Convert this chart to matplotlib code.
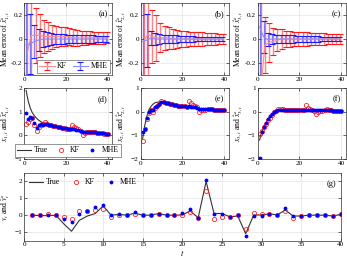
import numpy as np
import matplotlib.pyplot as plt

plt.rcParams['font.family'] = ['Liberation Serif', 'DejaVu Serif']
plt.rcParams['mathtext.fontset'] = 'stix'
plt.rcParams['font.size'] = 6

t = np.arange(1, 41)
tb = np.arange(1, 40, 2)   # error bars every 2 steps

# (a)-(c): mean error and half spread of the estimates
kf_m1 = [-0.12, 0.03, 0.03, 0.03, 0.02, 0.02, 0.02, 0.02, 0.02, 0.02,
         0.02, 0.01, 0.01, 0.01, 0.01, 0.01, 0.01, 0.01, 0.01, 0.01]
kf_e1 = [1.0, 0.6, 0.23, 0.18, 0.14, 0.12, 0.10, 0.09, 0.08, 0.08,
         0.07, 0.07, 0.065, 0.06, 0.06, 0.055, 0.05, 0.05, 0.05, 0.045]
mhe_m1 = [-0.05, -0.04, -0.02, -0.01, 0.0, 0.0, 0.0, 0.0, 0.0, 0.0,
          0.0, 0.0, 0.0, 0.0, 0.0, 0.0, 0.0, 0.0, 0.0, 0.0]
mhe_e1 = [1.0, 0.25, 0.14, 0.09, 0.07, 0.06, 0.05, 0.045, 0.04, 0.04,
          0.035, 0.035, 0.03, 0.03, 0.03, 0.03, 0.03, 0.025, 0.025, 0.025]

kf_m2 = [-0.02, 0.04, 0.02, 0.01, 0.01, 0.01, 0.01, 0.0, 0.0, 0.0,
         0.0, 0.0, 0.0, 0.0, 0.0, 0.0, 0.0, 0.0, 0.0, 0.0]
kf_e2 = [1.0, 0.6, 0.22, 0.19, 0.12, 0.10, 0.09, 0.08, 0.075, 0.07,
         0.065, 0.06, 0.06, 0.055, 0.055, 0.05, 0.05, 0.05, 0.045, 0.045]
mhe_m2 = [-0.02, -0.01, 0.01, 0.0, 0.0, 0.0, 0.0, 0.0, 0.0, 0.0,
          0.0, 0.0, 0.0, 0.0, 0.0, 0.0, 0.0, 0.0, 0.0, 0.0]
mhe_e2 = [1.0, 0.22, 0.06, 0.05, 0.04, 0.035, 0.03, 0.03, 0.03, 0.025,
          0.025, 0.025, 0.025, 0.02, 0.02, 0.02, 0.02, 0.02, 0.02, 0.02]

kf_m3 = [-0.45, -0.05, -0.03, -0.02, -0.01, 0.0, 0.0, 0.0, 0.0, 0.0,
         0.0, 0.0, 0.0, 0.0, 0.0, 0.0, 0.0, 0.0, 0.0, 0.0]
kf_e3 = [1.0, 0.23, 0.16, 0.11, 0.09, 0.08, 0.07, 0.065, 0.06, 0.06,
         0.055, 0.055, 0.05, 0.05, 0.05, 0.05, 0.045, 0.045, 0.045, 0.045]
mhe_m3 = [0.1, 0.015, -0.005, 0.0, 0.0, 0.0, 0.0, 0.0, 0.0, 0.0,
          0.0, 0.0, 0.0, 0.0, 0.0, 0.0, 0.0, 0.0, 0.0, 0.0]
mhe_e3 = [1.0, 0.135, 0.055, 0.04, 0.035, 0.03, 0.03, 0.03, 0.03, 0.025,
          0.025, 0.025, 0.025, 0.025, 0.025, 0.02, 0.02, 0.02, 0.02, 0.02]

# (d)-(f): true states and estimates
x1_true = [1.90, 1.45, 1.15, 0.95, 0.82, 0.72, 0.64, 0.58, 0.54, 0.51,
           0.48, 0.46, 0.44, 0.42, 0.40, 0.38, 0.36, 0.34, 0.32, 0.30,
           0.29, 0.28, 0.27, 0.26, 0.24, 0.22, 0.20, 0.18, 0.17, 0.16,
           0.15, 0.14, 0.13, 0.12, 0.11, 0.10, 0.09, 0.08, 0.07, 0.06]
x1_kf = [0.50, 0.55, 0.68, 0.72, 0.45, 0.20, 0.35, 0.45, 0.50, 0.55,
         0.48, 0.45, 0.43, 0.41, 0.38, 0.36, 0.34, 0.32, 0.30, 0.28,
         0.27, 0.26, 0.42, 0.35, 0.30, 0.25, 0.20, 0.03, 0.10, 0.12,
         0.13, 0.12, 0.15, 0.12, 0.10, 0.09, 0.08, 0.07, 0.06, 0.05]
x1_mhe = [0.95, 0.70, 0.78, 0.75, 0.52, 0.30, 0.45, 0.46, 0.45, 0.50,
          0.48, 0.45, 0.43, 0.41, 0.39, 0.37, 0.35, 0.33, 0.31, 0.29,
          0.28, 0.27, 0.28, 0.26, 0.24, 0.22, 0.20, 0.15, 0.16, 0.15,
          0.14, 0.13, 0.13, 0.12, 0.11, 0.10, 0.09, 0.08, 0.07, 0.06]

x2_true = [-1.15, -0.60, -0.20, 0.08, 0.22, 0.32, 0.38, 0.40, 0.41, 0.40,
           0.38, 0.36, 0.34, 0.32, 0.30, 0.28, 0.26, 0.25, 0.23, 0.22,
           0.21, 0.20, 0.19, 0.18, 0.17, 0.16, 0.15, 0.14, 0.13, 0.12,
           0.11, 0.10, 0.09, 0.08, 0.08, 0.07, 0.06, 0.06, 0.05, 0.05]
x2_kf = [-1.25, -0.75, -0.30, -0.05, 0.05, 0.00, 0.15, 0.25, 0.32, 0.45,
         0.40, 0.37, 0.35, 0.33, 0.31, 0.29, 0.27, 0.25, 0.24, 0.23,
         0.22, 0.20, 0.45, 0.35, 0.28, 0.22, 0.18, 0.00, 0.05, 0.07,
         0.09, 0.10, 0.12, 0.10, 0.09, 0.08, 0.07, 0.06, 0.05, 0.05]
x2_mhe = [-0.85, -0.75, -0.28, 0.00, 0.08, 0.05, 0.18, 0.25, 0.32, 0.40,
          0.39, 0.37, 0.35, 0.33, 0.31, 0.29, 0.27, 0.25, 0.24, 0.23,
          0.22, 0.21, 0.22, 0.20, 0.19, 0.18, 0.17, 0.12, 0.12, 0.12,
          0.11, 0.10, 0.11, 0.10, 0.09, 0.08, 0.07, 0.06, 0.05, 0.05]

x3_true = [-1.20, -0.85, -0.65, -0.48, -0.33, -0.21, -0.11, -0.03, 0.03, 0.07,
           0.08, 0.09, 0.09, 0.09, 0.09, 0.08, 0.08, 0.08, 0.08, 0.08,
           0.07, 0.07, 0.07, 0.07, 0.07, 0.06, 0.06, 0.06, 0.05, 0.05,
           0.05, 0.05, 0.05, 0.04, 0.04, 0.04, 0.04, 0.03, 0.03, 0.03]
x3_kf = [-0.95, -0.80, -0.65, -0.50, -0.35, -0.25, -0.12, -0.03, 0.04, 0.10,
         0.10, 0.10, 0.09, 0.09, 0.09, 0.08, 0.08, 0.08, 0.08, 0.08,
         0.08, 0.07, 0.28, 0.15, 0.10, 0.06, 0.03, -0.08, 0.00, 0.03,
         0.04, 0.05, 0.10, 0.06, 0.05, 0.04, 0.04, 0.03, 0.03, 0.03]
x3_mhe = [-1.95, -0.85, -0.65, -0.48, -0.33, -0.20, -0.10, -0.02, 0.04, 0.08,
          0.08, 0.09, 0.09, 0.09, 0.09, 0.08, 0.08, 0.08, 0.08, 0.08,
          0.08, 0.08, 0.08, 0.08, 0.07, 0.07, 0.07, 0.06, 0.06, 0.05,
          0.05, 0.05, 0.06, 0.05, 0.05, 0.04, 0.04, 0.04, 0.03, 0.03]

# (g): disturbance and its estimates
v_true = [0.0, -0.02, -0.03, 0.0, -0.5, -0.95, -0.3, -0.05, 0.1, 0.55,
          0.0, 0.05, 0.0, 0.12, 0.0, 0.0, 0.1, 0.0, 0.0, 0.02,
          0.25, -0.15, 2.0, 0.1, 0.1, -0.1, -0.05, -1.1, 0.0, 0.02,
          0.08, 0.02, 0.3, -0.05, -0.05, 0.0, 0.0, 0.0, -0.05, 0.05]
v_kf = [0.0, 0.04, 0.1, 0.04, -0.1, -0.2, 0.24, 0.26, 0.3, 0.36,
        -0.1, 0.04, 0.0, 0.1, 0.0, 0.0, 0.1, 0.0, 0.0, 0.0,
        0.2, -0.17, 1.44, -0.25, -0.1, -0.1, 0.0, -0.8, 0.15, 0.1,
        0.1, 0.0, 0.27, -0.15, -0.05, 0.0, 0.0, 0.0, -0.02, 0.05]
v_mhe = [0.0, 0.04, 0.04, 0.04, -0.25, -0.4, 0.05, 0.25, 0.46, 0.6,
         0.04, 0.08, 0.0, 0.16, 0.0, 0.0, 0.1, 0.0, 0.0, 0.15,
         0.35, -0.17, 2.1, 0.1, 0.1, -0.1, 0.0, -1.25, -0.05, -0.05,
         0.1, 0.0, 0.4, -0.05, -0.05, 0.0, 0.0, 0.0, -0.02, 0.1]

W, H = 347.0, 264.0


def box(l, top, w, bot):
    return [l / W, 1 - bot / H, w / W, (bot - top) / H]


fig = plt.figure(figsize=(3.47, 2.64), dpi=100)
lefts = [24.0, 140.5, 257.5]
row1 = [fig.add_axes(box(l, 3, 88, 75)) for l in lefts]
row2 = [fig.add_axes(box(l, 88, 88, 159)) for l in lefts]
axg = fig.add_axes(box(24.0, 173, 316.7, 240.5))

# x position (pixels) of the y label anchor for each column
label_x = [11.5, 127.9, 244.9]


def style(ax):
    ax.grid(True, color='#e3e3e3', lw=0.5)
    ax.set_axisbelow(True)
    ax.tick_params(direction='in', top=True, right=True, length=2,
                   width=0.4, labelsize=5.2, pad=1.2)
    for s in ax.spines.values():
        s.set_linewidth(0.5)
        s.set_color('#333333')


def place_ylabel(ax, px, left, width):
    ax.yaxis.set_label_coords((px - left) / width, 0.5)


def errbars(ax, x, m, e, c_line, c_bar, label):
    eb = ax.errorbar(x, m, yerr=e, color=c_line, lw=0.8, ecolor=c_bar,
                     elinewidth=1.0, capsize=2, capthick=0.8, label=label)
    for cl in eb[1]:
        cl.set_markeredgecolor(c_bar)
    eb[2][0].set_alpha(0.55)
    return eb


err_sets = [(kf_m1, kf_e1, mhe_m1, mhe_e1),
            (kf_m2, kf_e2, mhe_m2, mhe_e2),
            (kf_m3, kf_e3, mhe_m3, mhe_e3)]
names = ['a', 'b', 'c']
for i, ax in enumerate(row1):
    km, ke, mm, me = err_sets[i]
    errbars(ax, tb + 0.5, km, ke, '#ff8a8a', '#ff1a1a', 'KF')
    errbars(ax, tb, mm, me, '#8a8aff', '#1a1aff', 'MHE')
    ax.set_xlim(0, 42)
    ax.set_ylim(-0.3, 0.3)
    ax.set_xticks([0, 20, 40])
    ax.set_yticks([-0.2, 0, 0.2])
    ax.set_yticklabels(['-0.2', '0', '0.2'])
    ax.set_ylabel('Mean error of $\\hat{x}^s_{%d,t}$' % (i + 1), fontsize=5.5)
    place_ylabel(ax, label_x[i], lefts[i], 88)
    ax.text(0.95, 0.9, '(%s)' % names[i], transform=ax.transAxes,
            ha='right', va='top', fontsize=6)
    style(ax)
row1[0].legend(loc='lower right', ncol=2, fontsize=5.5, handlelength=2,
               columnspacing=0.8, handletextpad=0.3, borderpad=0.3,
               fancybox=False, edgecolor='#444444', framealpha=1,
               borderaxespad=0.3).get_frame().set_linewidth(0.4)

states = [(x1_true, x1_kf, x1_mhe), (x2_true, x2_kf, x2_mhe),
          (x3_true, x3_kf, x3_mhe)]
names = ['d', 'e', 'f']
for i, ax in enumerate(row2):
    xt, xk, xm = states[i]
    ax.plot(t, xt, color='#333333', lw=0.8, label='True')
    ax.plot(t, xk, 'o', mfc='none', mec='#ff2020', ms=3, mew=0.6, label='KF')
    ax.plot(t, xm, '.', color='#0000ff', ms=3.5, label='MHE')
    ax.set_xlim(0, 42)
    if i == 0:
        ax.set_ylim(-1, 2)
        ax.set_yticks([-1, 0, 1, 2])
    else:
        ax.set_ylim(-2, 1)
        ax.set_yticks([-2, -1, 0, 1])
    ax.set_xticks([0, 20, 40])
    ax.set_ylabel('$x_{%d,t}$ and $\\hat{x}^s_{%d,t}$' % (i + 1, i + 1),
                  fontsize=5.5)
    place_ylabel(ax, label_x[i] + 0.5, lefts[i], 88)
    ax.text(0.95, 0.9, '(%s)' % names[i], transform=ax.transAxes,
            ha='right', va='top', fontsize=6)
    style(ax)
row2[0].legend(loc='lower center', ncol=3, fontsize=5.5, handlelength=1.8,
               columnspacing=0.8, handletextpad=0.3, borderpad=0.3,
               fancybox=False, edgecolor='#444444', framealpha=1,
               borderaxespad=0.3).get_frame().set_linewidth(0.4)

axg.plot(t, v_true, color='#333333', lw=0.8, label='True')
axg.plot(t, v_kf, 'o', mfc='none', mec='#ff2020', ms=3, mew=0.6, label='KF')
axg.plot(t, v_mhe, '.', color='#0000ff', ms=3.5, label='MHE')
axg.set_xlim(0, 40)
axg.set_ylim(-1.5, 2.5)
axg.set_xticks(np.arange(0, 41, 5))
axg.set_yticks([-1, 0, 1, 2])
axg.set_ylabel('$v_t$ and $\\hat{v}^s_t$', fontsize=5.5)
place_ylabel(axg, label_x[0] + 0.5, 24.0, 316.7)
axg.set_xlabel('$t$', labelpad=0.5)
axg.text(0.985, 0.9, '(g)', transform=axg.transAxes, ha='right', va='top',
         fontsize=6)
axg.legend(loc='upper left', ncol=3, fontsize=5.5, handlelength=1.8,
           columnspacing=1.2, handletextpad=0.3, frameon=False,
           borderaxespad=0.3)
style(axg)

fig.savefig('out.png', dpi=100)
